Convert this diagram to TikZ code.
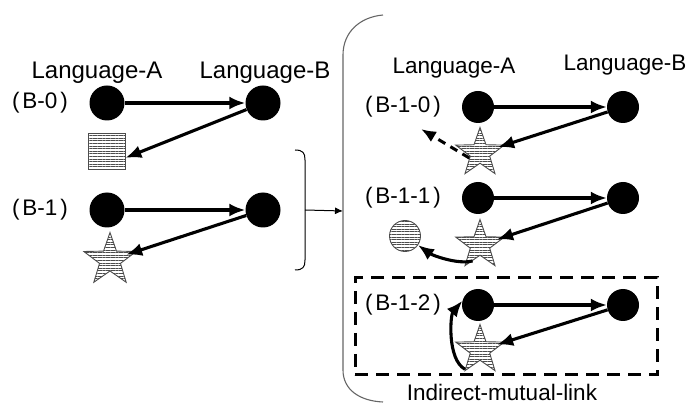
\documentclass[tikz,border=0pt]{standalone}
\usepackage{fontspec}
\setmainfont{Liberation Sans}
\usetikzlibrary{shapes.geometric,arrows.meta,patterns.meta}
\begin{document}
\begin{tikzpicture}[x=1pt,y=-1pt,
  lbl/.style={font=\fontsize{22.5}{26}\selectfont, inner sep=0pt},
  lblbig/.style={font=\fontsize{24}{28}\selectfont, inner sep=0pt},
  dotL/.style={circle, fill=black, inner sep=0pt, minimum size=35pt},
  dotR/.style={circle, fill=black, inner sep=0pt, minimum size=32pt},
  hatch/.style={draw=black!70, line width=0.9pt, pattern={Lines[angle=0,distance=2.6pt,line width=0.8pt]}, pattern color=black!70},
  starL/.style={hatch, star, star points=5, star point ratio=2.5, inner sep=0pt, minimum size=55pt},
  starR/.style={hatch, star, star points=5, star point ratio=2.5, inner sep=0pt, minimum size=51pt},
  arr/.style={line width=3.1pt, -{Latex[length=16pt,width=13pt]}},
  thin/.style={line width=1pt}
]
\useasboundingbox (0,0) rectangle (689,406);

% ---------- left panel ----------
\node[lblbig] (hLA) at (97,73) {Language-A};
\node[lblbig] (hLB) at (265,73) {Language-B};

\node[lbl] (l0) at (40,103) {(\kern3pt B-0\kern3pt)};
\node[dotL] (a0) at (107,103) {};
\node[dotL] (b0) at (263,103) {};
\node[hatch, inner sep=0pt, minimum width=37pt, minimum height=36pt] (sq) at (106.5,151) {};
\draw[arr] (a0) -- (b0);
\draw[arr] (b0) -- (sq.-20);

\node[lbl] (l1) at (40,210) {(\kern3pt B-1\kern3pt)};
\node[dotL] (a1) at (107,210) {};
\node[dotL] (b1) at (263,210) {};
\node[starL] (s1) at (110,260) {};
\draw[arr] (a1) -- (b1);
\draw[arr, shorten >=17pt] (b1) -- (s1.center);

% small bracket and arrow
\coordinate (brT) at (295,150);
\coordinate (brB) at (295,270);
\coordinate (brM) at (305,210);
\draw[thin] (brT) .. controls (303,150) and (305,153) .. (305,160) -- (305,260) .. controls (305,267) and (303,270) .. (brB);
\coordinate (bigM) at (343,211);
\draw[thin, -{Latex[length=8pt,width=7pt]}] (brM) -- (bigM);

% big bracket
\draw[black!60, line width=1.1pt] (383,15) .. controls (360,17) and (343,32) .. (343,55) -- (343,370) .. controls (343,390) and (360,401) .. (383,402);

% ---------- right panel ----------
\node[lbl] (hRA) at (454,68) {Language-A};
\node[lbl] (hRB) at (625,65) {Language-B};

% B-1-0
\node[lbl] (l10) at (403,107) {(\kern3pt B-1-0\kern3pt)};
\node[dotR] (a10) at (478,107) {};
\node[dotR] (b10) at (623,107) {};
\node[starR] (s10) at (480,153) {};
\coordinate (d10) at (421,129);
\draw[arr] (a10) -- (b10);
\draw[arr, shorten >=19pt] (b10) -- (s10.center);
\draw[line width=3pt, dash pattern=on 8pt off 6pt, -{Latex[length=15pt,width=12pt]}] (s10.205) -- (d10);

% B-1-1
\node[lbl] (l11) at (403,198) {(\kern3pt B-1-1\kern3pt)};
\node[dotR] (a11) at (478,198) {};
\node[dotR] (b11) at (623,198) {};
\node[starR] (s11) at (480,245) {};
\node[hatch, circle, inner sep=0pt, minimum size=31pt] (c11) at (405,236) {};
\draw[arr] (a11) -- (b11);
\draw[arr, shorten >=18pt] (b11) -- (s11.center);
\draw[arr] (s11.245) .. controls +(-15,4) and +(14,10) .. (c11.-35);

% B-1-2
\node[draw, line width=3pt, dash pattern=on 13pt off 8pt, inner sep=0pt, minimum width=302pt, minimum height=97pt] (box) at (506,326.5) {};
\node[lbl] (l12) at (403,305) {(\kern3pt B-1-2\kern3pt)};
\node[dotR] (a12) at (478,305) {};
\node[dotR] (b12) at (623,305) {};
\node[starR] (s12) at (480,350) {};
\draw[arr] (a12) -- (b12);
\draw[arr, shorten >=18pt] (b12) -- (s12.center);
\draw[arr] (s12.232) .. controls +(-18,-10) and +(-12,14) .. (a12.165);

\node[lbl] (iml) at (502,392) {Indirect-mutual-link};
\end{tikzpicture}
\end{document}
